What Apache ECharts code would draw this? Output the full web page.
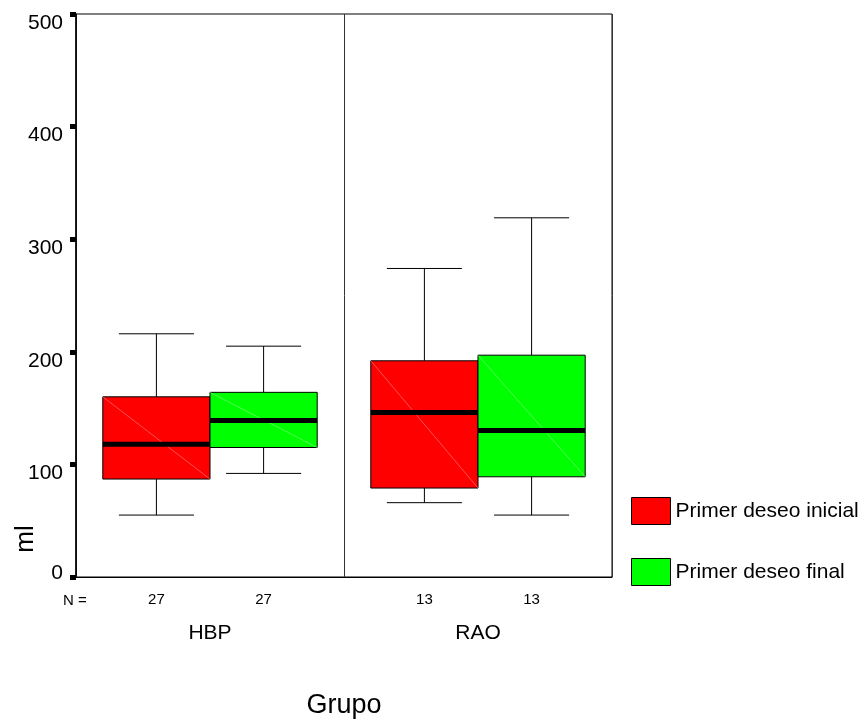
<!DOCTYPE html>
<html>
<head>
<meta charset="UTF-8">
<title>Primer deseo - boxplot</title>
<script src="https://cdn.jsdelivr.net/npm/echarts@6/dist/echarts.min.js"></script>
<style>
  html, body { margin: 0; padding: 0; background: #fff; }
  #chart { width: 862px; height: 720px; }
</style>
</head>
<body>
<div id="chart"></div>
<script>
// grupos
var groups = ['HBP', 'RAO'];
var yTicks = [0, 100, 200, 300, 400, 500];

// Primer deseo inicial (min, Q1, mediana, Q3, max, N)
var inicialMin = [55, 66];
var inicialQ1 = [87, 79];
var inicialMed = [118, 146];
var inicialQ3 = [160, 192];
var inicialMax = [216, 274];
var inicialN = [27, 13];

// Primer deseo final
var finalMin = [92, 55];
var finalQ1 = [115, 89];
var finalMed = [139, 130];
var finalQ3 = [164, 197];
var finalMax = [205, 319];
var finalN = [27, 13];

var FONT = '"Liberation Sans", Arial, sans-serif';

function buildData(mn, q1, md, q3, mx, n) {
  var out = [];
  for (var i = 0; i < groups.length; i++) {
    out.push([i, mn[i], q1[i], md[i], q3[i], mx[i], n[i]]);
  }
  return out;
}

// side: -1 izquierda, +1 derecha
function boxRenderer(side, fill, diag) {
  return function (params, api) {
    var cat = api.value(0);
    var band = api.size([1, 0])[0];
    var w = band * 0.4;
    var cx = api.coord([cat, 0])[0] + side * w / 2;
    var y0 = api.coord([cat, 0])[1];
    var yMin = api.coord([cat, api.value(1)])[1];
    var yQ1 = api.coord([cat, api.value(2)])[1];
    var yMed = api.coord([cat, api.value(3)])[1];
    var yQ3 = api.coord([cat, api.value(4)])[1];
    var yMax = api.coord([cat, api.value(5)])[1];
    var cap = w * 0.35;
    var ln = { stroke: '#000', lineWidth: 1 };
    return {
      type: 'group',
      children: [
        { type: 'line', shape: { x1: cx, y1: yMax, x2: cx, y2: yQ3 }, style: ln },
        { type: 'line', shape: { x1: cx, y1: yQ1, x2: cx, y2: yMin }, style: ln },
        { type: 'line', shape: { x1: cx - cap, y1: yMax, x2: cx + cap, y2: yMax }, style: ln },
        { type: 'line', shape: { x1: cx - cap, y1: yMin, x2: cx + cap, y2: yMin }, style: ln },
        { type: 'rect', shape: { x: cx - w / 2, y: yQ3, width: w, height: yQ1 - yQ3 },
          style: { fill: fill, stroke: '#000', lineWidth: 1 } },
        { type: 'line', shape: { x1: cx - w / 2, y1: yQ3, x2: cx + w / 2, y2: yQ1 },
          style: { stroke: diag, lineWidth: 0.6 } },
        { type: 'line', shape: { x1: cx - w / 2, y1: yMed, x2: cx + w / 2, y2: yMed },
          style: { stroke: '#000', lineWidth: 5 } },
        { type: 'text', style: { text: String(api.value(6)), x: cx, y: y0 + 23,
          align: 'center', verticalAlign: 'middle', font: '15px ' + FONT, fill: '#000' } }
      ]
    };
  };
}

var chart = echarts.init(document.getElementById('chart'));

var option = {
  backgroundColor: '#fff',
  animation: false,
  textStyle: { fontFamily: FONT },
  grid: {
    left: 76, right: 250, top: 14, bottom: 143,
    outerBoundsMode: 'none',
    show: true, borderColor: '#000', borderWidth: 1, backgroundColor: 'transparent'
  },
  legend: {
    orient: 'vertical',
    left: 626, top: 492,
    itemWidth: 39, itemHeight: 27, itemGap: 33,
    selectedMode: false,
    icon: 'rect',
    textStyle: { fontSize: 21, color: '#000', fontFamily: FONT, padding: [14, 0, 0, 0] },
    data: [
      { name: 'Primer deseo inicial', itemStyle: { color: '#ff0000', borderColor: '#000', borderWidth: 1 } },
      { name: 'Primer deseo final', itemStyle: { color: '#00ff00', borderColor: '#000', borderWidth: 1 } }
    ]
  },
  xAxis: {
    type: 'category',
    data: groups,
    name: 'Grupo',
    nameLocation: 'middle',
    nameGap: 115,
    nameTextStyle: { fontSize: 27, color: '#000', fontFamily: FONT },
    axisLine: { lineStyle: { color: '#000', width: 1 } },
    axisTick: { alignWithLabel: true, length: 5, lineStyle: { color: '#000', width: 5 } },
    axisLabel: { margin: 46, fontSize: 21, color: '#000', fontFamily: FONT },
    splitLine: { show: true, lineStyle: { color: '#333', width: 1 } }
  },
  yAxis: {
    type: 'value',
    min: 0, max: 500, interval: 100,
    axisLine: { show: true, lineStyle: { color: '#000', width: 1.5 } },
    axisTick: { show: true, length: 6, lineStyle: { color: '#000', width: 5 } },
    axisLabel: {
      margin: 13, color: '#000', fontFamily: FONT,
      formatter: function (v) {
        return yTicks.indexOf(v) === 0 ? '{z|' + v + '}' : '{a|' + v + '}';
      },
      rich: {
        a: { fontSize: 21, fontFamily: FONT, color: '#000', padding: [18, 0, 0, 0] },
        z: { fontSize: 21, fontFamily: FONT, color: '#000', padding: [0, 0, 8, 0] }
      }
    },
    splitLine: { show: false }
  },
  graphic: [
    { type: 'text', x: 26, y: 539, rotation: Math.PI / 2,
      style: { text: 'ml', font: '26px ' + FONT, fill: '#000', align: 'center', verticalAlign: 'middle' } },
    { type: 'text', x: 63, y: 601,
      style: { text: 'N =', font: '15px ' + FONT, fill: '#000', align: 'left', verticalAlign: 'middle' } }
  ],
  series: [
    {
      name: 'Primer deseo inicial',
      type: 'custom',
      itemStyle: { color: '#ff0000' },
      encode: { x: 0, y: [1, 2, 3, 4, 5] },
      renderItem: boxRenderer(-1, '#ff0000', 'rgba(255,170,170,0.8)'),
      data: buildData(inicialMin, inicialQ1, inicialMed, inicialQ3, inicialMax, inicialN)
    },
    {
      name: 'Primer deseo final',
      type: 'custom',
      itemStyle: { color: '#00ff00' },
      encode: { x: 0, y: [1, 2, 3, 4, 5] },
      renderItem: boxRenderer(1, '#00ff00', 'rgba(170,255,170,0.8)'),
      data: buildData(finalMin, finalQ1, finalMed, finalQ3, finalMax, finalN)
    }
  ]
};

chart.setOption(option);
</script>
</body>
</html>
